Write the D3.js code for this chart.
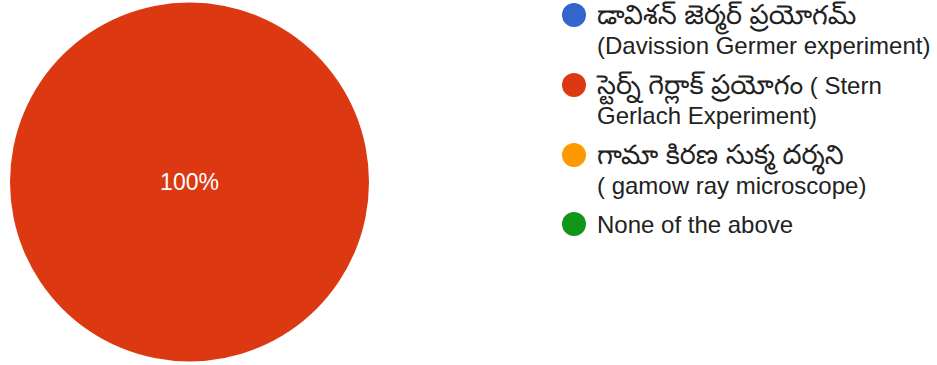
<!DOCTYPE html>
<html>
<head>
<meta charset="utf-8">
<script src="https://cdn.jsdelivr.net/npm/d3@7"></script>
<style>
  html, body { margin: 0; padding: 0; background: #fff; }
  svg { display: block; }
</style>
</head>
<body>
<svg id="chart" width="937" height="365"></svg>
<script>
// Answer options (each legend entry may wrap onto two lines)
const labels = [
  ["డావిశన్ జెర్మర్ ప్రయోగమ్", "(Davission Germer experiment)"],
  ["స్టెర్న్ గెర్లాక్ ప్రయోగం ( Stern", "Gerlach Experiment)"],
  ["గామా కిరణ సుక్మ దర్శని", "( gamow ray microscope)"],
  ["None of the above"]
];
// Share of responses per option (%)
const values = [0, 100, 0, 0];
const colors = ["#3366cc", "#dc3912", "#ff9900", "#109618"];

const svg = d3.select("#chart");
const font = "Arial, 'Liberation Sans', 'Noto Sans Telugu', sans-serif";

const cx = 189.5, cy = 182, r = 179.5;
const pie = d3.pie().sort(null).value(d => d);
const arc = d3.arc().innerRadius(0).outerRadius(r);
const arcs = pie(values);

const g = svg.append("g").attr("transform", `translate(${cx},${cy})`);
g.selectAll("path")
  .data(arcs.filter(a => a.data > 0))
  .join("path")
  .attr("d", arc)
  .attr("fill", (a) => colors[a.index]);

g.selectAll("text.pct")
  .data(arcs.filter(a => a.data > 0))
  .join("text")
  .attr("class", "pct")
  .attr("transform", a => {
    const full = (a.endAngle - a.startAngle) >= 2 * Math.PI - 1e-6;
    return full ? "translate(0,0)" : `translate(${d3.arc().innerRadius(r * 0.6).outerRadius(r * 0.6).centroid(a)})`;
  })
  .attr("text-anchor", "middle")
  .attr("dominant-baseline", "central")
  .attr("fill", "#fff")
  .style("font-family", font)
  .style("font-size", "23px")
  .text(a => d3.format(".0f")(a.data) + "%");

// Split a line into Telugu / Latin runs so the Telugu script can be sized up
function runs(line) {
  return line.match(/[\u0C00-\u0C7F][\u0C00-\u0C7F ]*(?=[\u0C00-\u0C7F]|$|\s)|[^\u0C00-\u0C7F]+/g) || [line];
}
const isTelugu = s => /[\u0C00-\u0C7F]/.test(s);

// Legend
const legendX = 574, textX = 597, lineH = 30;
const legendYs = [15, 85, 155, 224];
const legend = svg.append("g");
labels.forEach((lines, i) => {
  const item = legend.append("g").attr("transform", `translate(0,${legendYs[i]})`);
  item.append("circle")
    .attr("cx", legendX).attr("cy", 0).attr("r", 12)
    .attr("fill", colors[i]);
  lines.forEach((ln, j) => {
    const t = item.append("text")
      .attr("x", textX).attr("y", j * lineH)
      .attr("dominant-baseline", "central")
      .attr("fill", "#222")
      .style("font-family", font)
      .style("font-size", "24px");
    runs(ln).forEach(part => {
      t.append("tspan")
        .style("font-size", isTelugu(part) ? "27px" : null)
        .text(part);
    });
  });
});
</script>
</body>
</html>
